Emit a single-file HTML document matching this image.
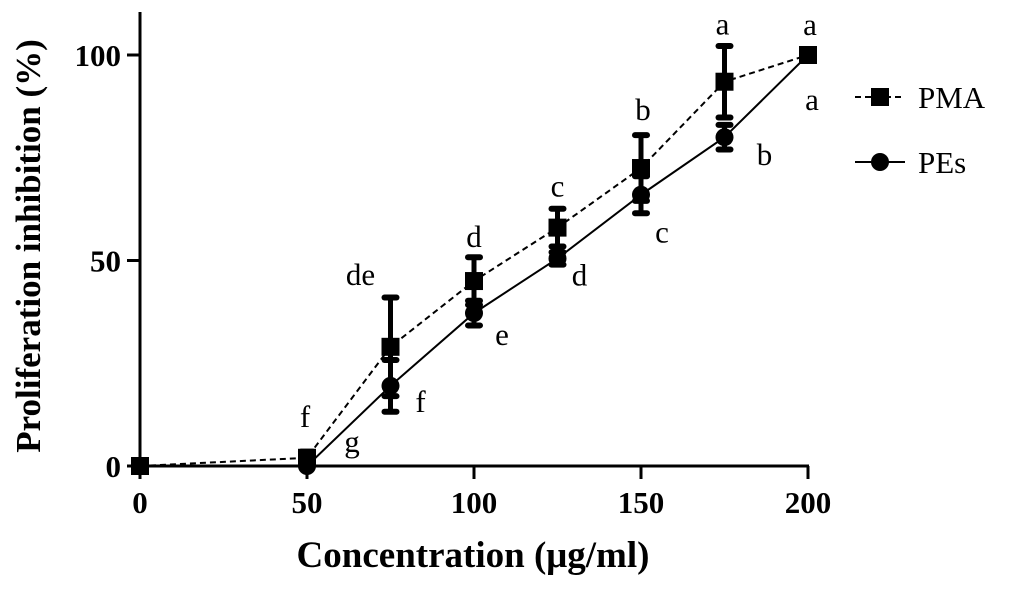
<!DOCTYPE html>
<html><head><meta charset="utf-8"><style>
body{margin:0;background:#fff}
svg{display:block;font-family:"Liberation Serif",serif}
</style></head><body>
<svg id="chart" width="1024" height="591" viewBox="0 0 1024 591">
<g id="axes"></g><g id="series"></g><g id="labels"></g>
<g>
 <g>
  <line x1="855" y1="97" x2="905" y2="97" stroke="#000" stroke-width="2" stroke-dasharray="6,4"/>
  <rect x="871" y="88" width="18" height="18" fill="#000"/>
  <text x="918" y="108" font-size="31">PMA</text>
 </g>
 <g>
  <line x1="855" y1="162" x2="905" y2="162" stroke="#000" stroke-width="2"/>
  <circle cx="880" cy="162" r="9" fill="#000"/>
  <text x="918" y="173" font-size="31">PEs</text>
 </g>
</g>
<text x="473" y="567" font-size="37" font-weight="bold" text-anchor="middle">Concentration (μg/ml)</text>
<text transform="translate(40,246) rotate(-90)" font-size="35" font-weight="bold" text-anchor="middle">Proliferation inhibition (%)</text>
</svg>
<script>
const xCats=[0,50,75,100,125,150,175,200];
const pmaVals=[0,2,29,45,58,72.5,93.5,100];
const pmaErr=[0,1.5,12,5.8,4.6,8,8.7,0];
const pesVals=[0,0,19.5,37.2,50.5,66,80,100];
const pesErr=[0,0,6.3,3,1.5,4.5,3,0];
const pmaLetters=["","f","de","d","c","b","a","a"];
const pesLetters=["","g","f","e","d","c","b","a"];
const xTicks=[0,50,100,150,200];
const yTicks=[0,50,100];
const pmaOff=[[0,0],[-2,-31],[-30,-62],[0,-34],[0,-31],[2,-48],[-2,-47],[2,-20]];
const pesOff=[[0,0],[45,-14],[30,26],[28,32],[22,27],[21,48],[40,28],[4,55]];
const NS="http://www.w3.org/2000/svg";
const X=v=>140+v*(808-140)/200;
const Y=v=>466-v*(466-55)/100;
function mk(p,t,a){const e=document.createElementNS(NS,t);for(const k in a)e.setAttribute(k,a[k]);p.appendChild(e);return e;}
const ax=document.getElementById('axes'),se=document.getElementById('series'),lb=document.getElementById('labels');
let l=mk(ax,'line',{x1:140,y1:12,x2:140,y2:467,stroke:'#000','stroke-width':3});


l=mk(ax,'line',{x1:138,y1:466,x2:809,y2:466,stroke:'#000','stroke-width':3});


xTicks.forEach(t=>{mk(ax,'line',{x1:X(t),y1:466,x2:X(t),y2:479,stroke:'#000','stroke-width':3});
 const e=mk(ax,'text',{x:X(t),y:513,'font-size':31,'font-weight':'bold','text-anchor':'middle'});e.textContent=t;
 
 });
yTicks.forEach(t=>{mk(ax,'line',{x1:127,y1:Y(t),x2:140,y2:Y(t),stroke:'#000','stroke-width':3});
 const e=mk(ax,'text',{x:121,y:Y(t)+11,'font-size':31,'font-weight':'bold','text-anchor':'end'});e.textContent=t;
 
 });
function series(vals,err,dash,shape,name){
 const g=mk(se,'g',{});
 
 
 const pl=mk(g,'polyline',{points:xCats.map((c,i)=>X(c)+','+Y(vals[i])).join(' '),fill:'none',stroke:'#000','stroke-width':2});
 if(dash)pl.setAttribute('stroke-dasharray','6,4');
 xCats.forEach((c,i)=>{
  if(err[i]>0){const x=X(c),t=Y(vals[i]+err[i]),b=Y(vals[i]-err[i]);
   mk(g,'line',{x1:x,y1:t,x2:x,y2:b,stroke:'#000','stroke-width':5});
   mk(g,'line',{x1:x-6,y1:t,x2:x+6,y2:t,stroke:'#000','stroke-width':6,'stroke-linecap':'round'});
   mk(g,'line',{x1:x-6,y1:b,x2:x+6,y2:b,stroke:'#000','stroke-width':6,'stroke-linecap':'round'});}
  let m;
  if(shape==='sq')m=mk(g,'rect',{x:X(c)-9,y:Y(vals[i])-9,width:18,height:18,fill:'#000'});
  else m=mk(g,'circle',{cx:X(c),cy:Y(vals[i]),r:9,fill:'#000'});
  
  
 });
}
series(pmaVals,pmaErr,true,'sq','pma');
series(pesVals,pesErr,false,'ci','pes');
xCats.forEach((c,i)=>{
 if(pmaLetters[i]){const e=mk(lb,'text',{x:X(c)+pmaOff[i][0],y:Y(pmaVals[i])+pmaOff[i][1],'font-size':31,'text-anchor':'middle'});e.textContent=pmaLetters[i];
  
  }
 if(pesLetters[i]){const e=mk(lb,'text',{x:X(c)+pesOff[i][0],y:Y(pesVals[i])+pesOff[i][1],'font-size':31,'text-anchor':'middle'});e.textContent=pesLetters[i];
  
  }
});
</script>
</body></html>
